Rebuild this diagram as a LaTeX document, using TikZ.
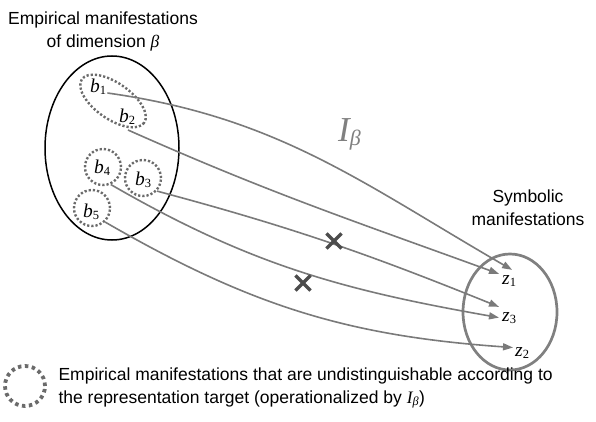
\documentclass[tikz,border=0pt]{standalone}
\usepackage{fontspec}
\setmainfont{Liberation Sans}
\newfontfamily\serif{Liberation Serif}
\usetikzlibrary{arrows.meta,shapes.misc}
\newcommand{\mlab}[2]{{\serif\fontsize{19.5}{19.5}\selectfont\itshape #1}{\serif\fontsize{12.5}{12.5}\selectfont\raisebox{-2pt}{#2}}}

\begin{document}
\begin{tikzpicture}[x=1pt,y=-1pt,
  map/.style={draw=black!52, line width=1.6pt, -{Triangle[length=10pt,width=7pt]}},
  grp/.style={draw=black!58, line width=2.4pt, dash pattern=on 2.2pt off 2pt},
  lab/.style={inner sep=1pt, anchor=base west},
  txt/.style={font=\fontsize{17.5}{23}\selectfont, align=center},
  xmark/.style={cross out, draw=black!70, line width=3.2pt, minimum size=12pt, inner sep=0pt}]
\useasboundingbox (0,0) rectangle (596,422);
% empirical manifestations
\node[txt] (etitle) at (103,32) {Empirical manifestations\\of dimension {\serif\itshape β}};
\draw[line width=1.5pt] (112,148) ellipse (67 and 92);
\draw[grp, rotate around={-35:(113,101)}] (113,101) ellipse (38 and 18);
\node[grp, circle, minimum size=36pt] (g4) at (103,167) {};
\node[grp, circle, minimum size=36pt] (g3) at (143,178) {};
\node[grp, circle, minimum size=36pt] (g5) at (92,208) {};
\coordinate (s2) at (128,130);
\node[lab] (b1) at (89,93) {\mlab{b}{1}};
\node[lab] (b2) at (118,123) {\mlab{b}{2}};
\node[lab] (b4) at (93,173) {\mlab{b}{4}};
\node[lab] (b3) at (134,185) {\mlab{b}{3}};
\node[lab] (b5) at (82,217) {\mlab{b}{5}};
% symbolic manifestations
\node[txt] (stitle) at (528,208) {Symbolic\\manifestations};
\draw[draw=black!50, line width=2.7pt] (510,312) ellipse (47 and 58);
\node[lab] (z1) at (501,284) {\mlab{z}{1}};
\node[lab] (z3) at (501,321) {\mlab{z}{3}};
\node[lab] (z2) at (514,356) {\mlab{z}{2}};
% mapping
\draw[map] (b1.base east) to[out=-8,in=150] ([xshift=3pt,yshift=4pt]z1.north);
\draw[map] (s2) to[out=-24,in=160] ([xshift=-2pt]z1.north west);
\draw[map] (g3.-43) to[out=-15,in=158] ([xshift=-2pt,yshift=4pt]z3.north west);
\draw[map] (g4.-66) to[out=-30,in=170] ([xshift=-2pt]z3.west);
\draw[map] (g5.-47) to[out=-30,in=176] ([xshift=-1pt,yshift=5pt]z2.west);
\node[font=\serif\fontsize{35}{35}\selectfont\itshape, text=black!50, anchor=base west, inner sep=0pt] (ib) at (338,142) {I\raisebox{-4pt}{\fontsize{22}{22}\selectfont β}};
\node[xmark] (x1) at (334,241) {};
\node[xmark] (x2) at (303,283) {};
% legend
\node[circle, draw=black!58, line width=3.8pt, dash pattern=on 3.5pt off 3.5pt, minimum size=40pt] (leg) at (25,386) {};
\node[font=\fontsize{17.5}{23}\selectfont, align=left, anchor=west] (legtxt) at (55,388) {Empirical manifestations that are undistinguishable according to\\the representation target (operationalized by {\serif\itshape I\textsubscript{β}})};
\end{tikzpicture}
\end{document}
